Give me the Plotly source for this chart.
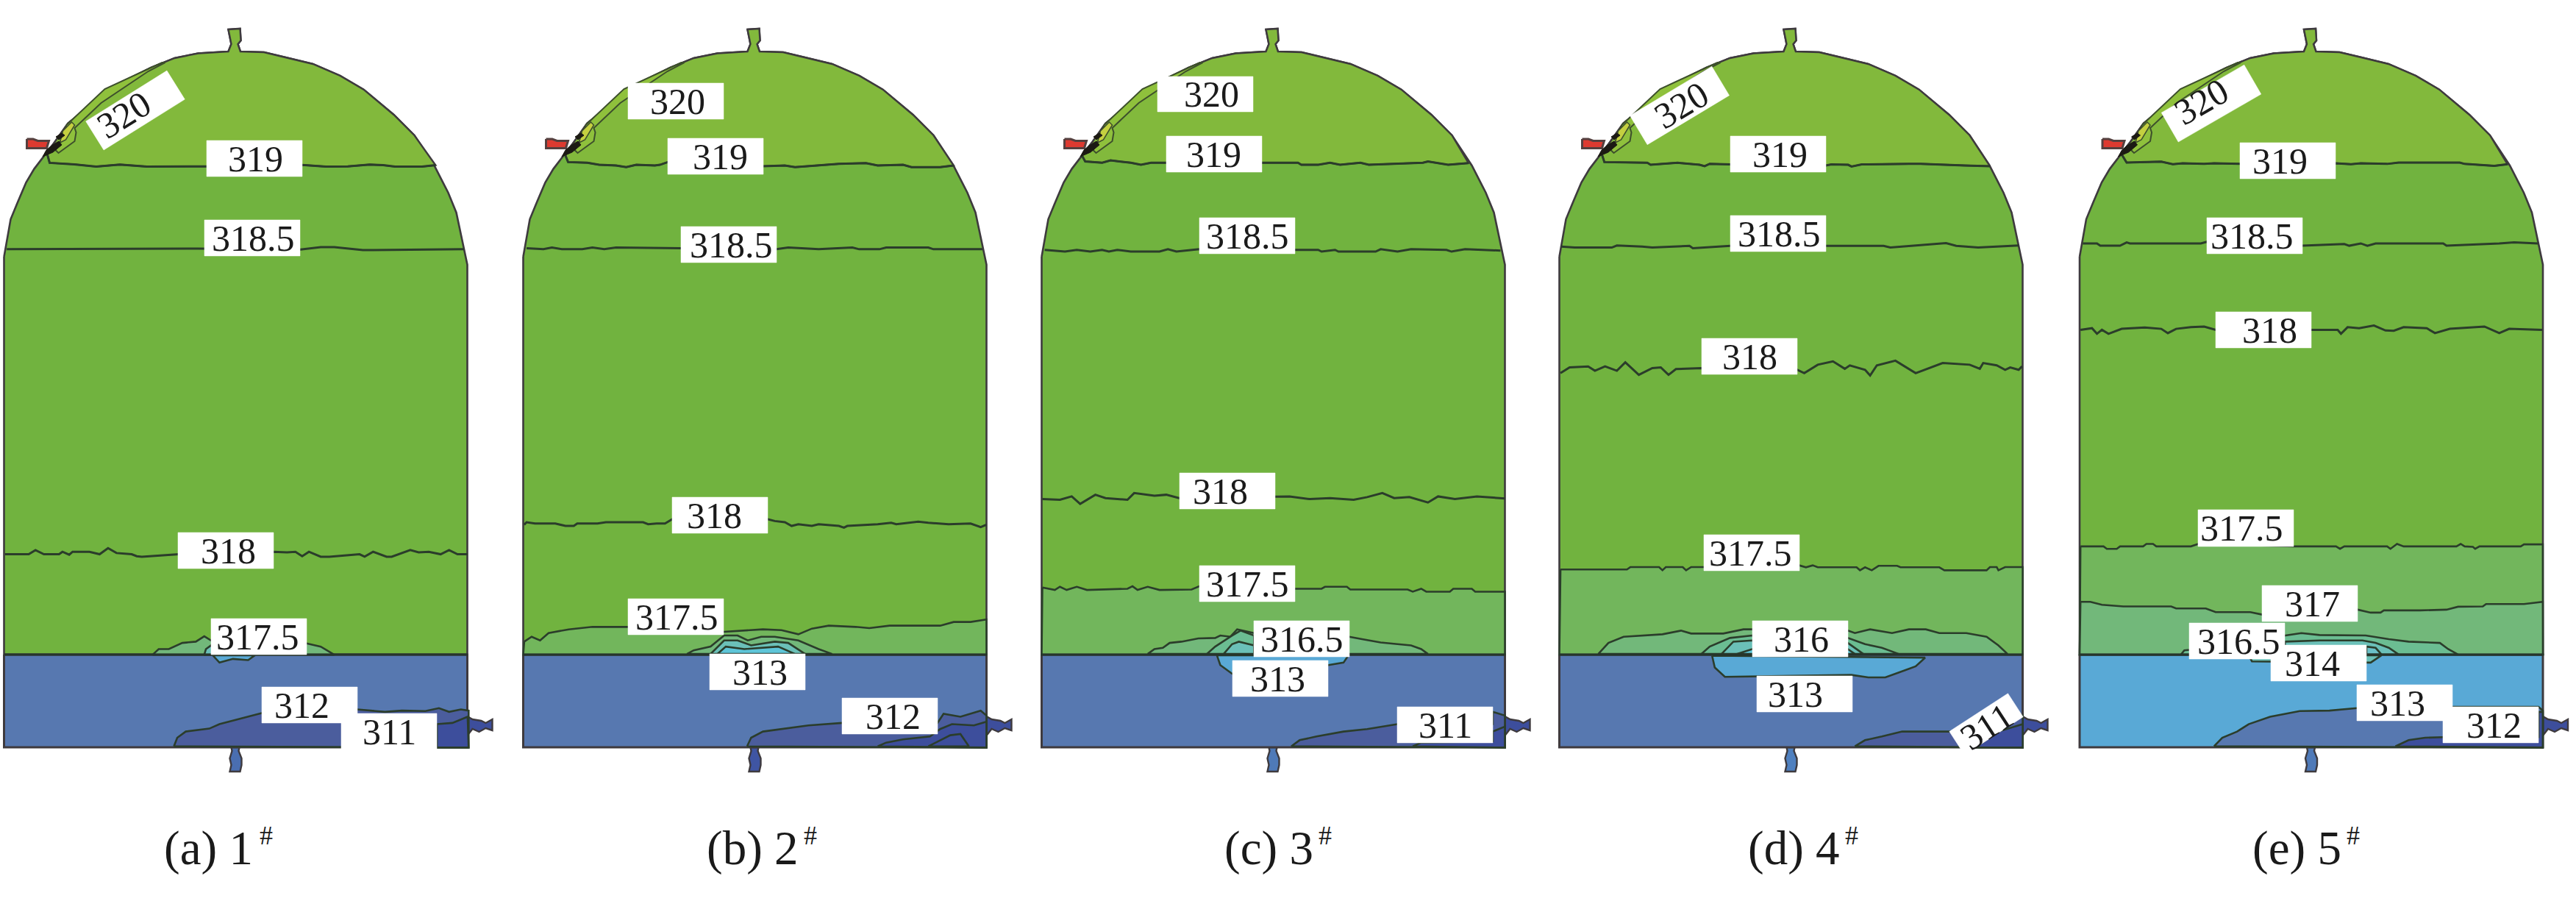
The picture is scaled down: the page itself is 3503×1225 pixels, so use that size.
import math
import plotly.graph_objects as go

# ---------- colours ----------
COL_CAP = "#82b93c"; COL_MAIN = "#71b33f"; COL_B1 = "#72b65c"; COL_B2 = "#72b87a"; COL_B3 = "#6bbd92"
COL_TEAL = "#6bc0b8"; COL_SKY = "#59a9d6"; COL_BLUE = "#5778b0"; COL_DARK = "#4b5d9d"; COL_DEEP = "#3d4e9c"
COL_LINE = "#2b3d2b"; COL_WALL = "#3e3a3e"; COL_RED = "#dd3a30"
SERIF = "Liberation Serif, Times New Roman, Times, serif"

# ---------- vessel, in pixels from the left wall of each panel ----------
PANEL_LEFT = [5.5, 711.5, 1416.5, 2120.5, 2828]
WIDTH = 630
Y_INTERFACE = 890
Y_BOTTOM = 1016
DOME = [(0, 349), (4.6, 321), (9, 298), (18.3, 275.5), (30, 248), (41, 229.6), (55, 211), (69, 193), (87, 167.6),
        (112.5, 147), (140, 121.7), (167.5, 108), (199.7, 92), (232, 79), (264, 72.5), (305, 70),
        (309, 60), (305, 40), (321, 39), (322, 55), (318, 60), (321.4, 70),
        (353.5, 71), (383, 78), (420, 87), (457, 103), (489, 121.7), (530, 156), (558, 184), (585, 225),
        (604, 262), (615, 289), (624, 330.6), (630, 360)]
NOZZLE = [(630, 974), (637, 978), (649, 980), (655, 983), (664, 978), (664, 993), (655, 990), (646, 995), (637, 991), (630, 1000)]
DRAIN = [(309, 1016), (310, 1021), (307, 1031), (309, 1040), (307, 1049), (321, 1049), (323, 1040), (323, 1031), (319, 1021), (320, 1016)]
INLET = [(31, 189), (39.5, 189), (46, 191.5), (61, 191.5), (58, 201.5), (31, 201.5)]
BLOB = [(52.5, 213), (57.5, 204), (64.5, 198), (74.5, 192), (78.5, 197), (66.5, 207)]
BLOB_UPPER = [(70.5, 186), (78.5, 181), (82.5, 184), (74.5, 190)]
STRIP = [(85, 170), (137, 121), (215, 85), (219, 85), (196, 97), (132, 140), (96, 174), (98, 180), (96, 192), (74, 208), (70, 204), (80, 186)]
SPARK = [(80, 178), (92, 166), (96, 170), (84, 190), (76, 194)]
DRAIN_COLOUR = ["#4a6eb0", "#3f55a3", "#4f7ab8", "#4f80bf", "#4f7ab8"]

# ---------- crops the traces were read from: left, top, x scale, y scale ----------
A_TOP = (0, 0, 2.178, 2.529); A_LOW = (0, 700, 2.178, 2.987)
B_TOP = (700, 0, 2.178, 2.178); B_LOW = (700, 700, 2.178, 2.987)
C_TOP = (1400, 0, 2.178, 2.178); C_LOW = (1400, 700, 2.178, 2.987)
D_TOP = (2100, 0, 2.178, 2.178); D_LOW = (2100, 700, 2.178, 2.987)
E_TOP = (2800, 0, 2.23, 2.23); E_LOW = (2800, 700, 2.23, 2.987)

# ---------- panel (a) 1# ----------
A_319 = [(140,530),(147,560),(220,565),(285,573),(355,566),(435,573),(570,572),(610,572),(895,567),(965,573),(1030,572),(1095,566),(1135,568),(1170,573),(1250,573),(1290,568)]
A_3185 = [(20,857),(585,855),(890,858),(950,850),(990,850),(1075,860),(1105,860),(1375,857)]
A_318 = [(15,160),(85,160),(105,143),(130,160),(175,160),(185,150),(205,162),(215,150),(235,150),(265,150),(295,160),(320,135),(345,155),(390,160),(405,168),(420,170),(530,160),(810,150),(850,152),(875,150),(895,168),(915,150),(950,170),(975,170),(1065,160),(1080,170),(1105,150),(1145,170),(1160,170),(1200,150),(1215,143),(1240,152),(1270,150),(1305,160),(1330,143),(1355,160),(1385,160)]
A_D1 = [(452,568),(470,545),(500,545),(540,520),(580,515),(605,493),(625,510),(908,522),(950,535),(990,568)]
A_D2 = [(605,568),(610,545),(625,530),(640,568)]
A_SKY = [(630,570),(650,600),(690,585),(735,590),(755,570)]
A_DARK = [(515,940),(525,905),(550,880),(620,868),(650,850),(720,825),(775,805),(1058,790),(1140,800),(1190,795),(1260,797),(1300,785),(1330,800),(1365,790),(1388,795),(1388,945)]
A_DEEP = [(1294,850),(1340,845),(1385,820),(1388,945),(1294,945)]

# ---------- panel (b) 2# ----------
B_319 = [(150,460),(158,480),(215,482),(250,488),(300,490),(330,495),(360,488),(415,490),(430,488),(453,480),(736,492),(800,490),(830,495),(890,490),(960,485),(1040,483),(1075,490),(1150,488),(1175,495),(1260,495),(1300,490)]
B_3185 = [(35,735),(85,738),(110,733),(140,738),(200,738),(230,733),(265,738),(300,733),(492,735),(775,738),(810,733),(900,738),(1000,733),(1020,738),(1080,738),(1100,733),(1225,733),(1240,738),(1300,738),(1385,738)]
B_318 = [(28,40),(35,30),(60,35),(120,35),(150,45),(175,45),(185,35),(245,35),(270,30),(310,30),(380,30),(395,38),(420,35),(445,35),(466,18),(750,18),(770,25),(800,30),(820,45),(840,38),(880,45),(900,38),(960,45),(975,52),(985,45),(1075,38),(1115,32),(1130,38),(1195,28),(1225,32),(1285,38),(1350,35),(1380,50),(1397,40)]
B_3175 = [(28,515),(50,495),(75,510),(100,480),(160,465),(230,455),(335,455),(620,475),(735,465),(790,468),(840,485),(880,462),(930,450),(1010,455),(1050,460),(1110,450),(1200,450),(1260,450),(1300,435),(1350,435),(1397,425)]
B_D1 = [(510,565),(530,550),(580,535),(620,490),(660,490),(690,510),(730,495),(770,495),(840,510),(900,545),(940,565)]
B_D2 = [(580,565),(620,510),(660,510),(700,530),(770,515),(810,520),(860,565)]
B_D3 = [(600,565),(625,535),(680,545),(780,535),(830,565)]
B_DARK = [(688,940),(700,905),(735,880),(790,870),(870,855),(970,845),(1252,845),(1270,808),(1320,820),(1380,795),(1397,815),(1397,945)]
B_DEEP = [(1075,940),(1100,925),(1150,912),(1230,900),(1260,870),(1295,850),(1360,855),(1397,840),(1397,945)]
B_DEEP2 = [(1225,940),(1290,895),(1320,890),(1345,940)]

# ---------- panel (c) 3# ----------
C_319 = [(155,460),(165,478),(215,482),(240,475),(300,482),(330,488),(360,482),(405,482),(688,482),(795,482),(805,488),(855,488),(890,482),(920,488),(980,482),(1005,488),(1165,482),(1180,478),(1240,488),(1300,483)]
C_3185 = [(45,740),(105,745),(140,740),(180,745),(215,740),(235,745),(260,740),(300,745),(385,745),(410,738),(435,745),(503,738),(786,740),(855,740),(865,745),(905,740),(915,745),(1025,745),(1040,738),(1090,745),(1130,738),(1235,740),(1250,745),(1290,738),(1395,742)]
C_318 = [(38,1478),(90,1480),(125,1470),(150,1492),(195,1465),(225,1475),(290,1480),(310,1460),(370,1468),(405,1465),(443,1475),(727,1472),(770,1470),(830,1478),(890,1475),(960,1480),(1000,1472),(1045,1460),(1080,1475),(1125,1472),(1180,1488),(1210,1470),(1260,1478),(1325,1470),(1408,1476)]
C_3175 = [(38,295),(75,305),(90,292),(110,305),(140,292),(170,305),(290,300),(305,290),(320,305),(350,292),(385,305),(480,303),(503,290),(786,300),(865,300),(875,292),(940,292),(950,303),(1120,303),(1135,312),(1160,300),(1175,312),(1245,312),(1255,300),(1310,300),(1320,312),(1408,312)]
C_D1 = [(350,565),(370,545),(395,540),(415,520),(450,515),(500,502),(550,500),(565,490),(595,495),(615,465),(665,480),(947,495),(985,505),(1040,518),(1090,525),(1130,530),(1160,545),(1180,565)]
C_D2 = [(525,565),(550,535),(600,490),(625,470),(665,490),(665,565)]
C_D3 = [(575,565),(600,525),(620,515),(665,530),(665,565)]
C_SKY = [(555,570),(565,610),(600,645),(885,610),(930,600),(945,570)]
C_DARK = [(775,940),(800,915),(850,900),(930,880),(1000,870),(1090,850),(1372,850),(1372,800),(1408,815),(1408,945)]
C_DEEP = [(1135,940),(1160,925),(1372,920),(1372,880),(1408,860),(1408,945)]

# ---------- panel (d) 4# ----------
D_319 = [(170,455),(178,480),(305,482),(315,488),(395,482),(460,488),(475,492),(490,485),(551,487),(834,490),(850,487),(900,488),(910,493),(940,487),(1080,485),(1115,485),(1245,490),(1320,492)]
D_3185 = [(50,730),(90,733),(200,733),(215,727),(290,730),(320,733),(430,728),(440,735),(551,728),(834,728),(1005,728),(1025,733),(1125,725),(1190,720),(1220,728),(1285,733),(1405,727)]
D_318 = [(48,1105),(75,1088),(130,1085),(150,1098),(180,1085),(215,1098),(240,1073),(280,1110),(320,1090),(345,1088),(368,1110),(390,1093),(466,1090),(749,1095),(770,1105),(810,1080),(855,1070),(890,1092),(905,1082),(950,1095),(965,1112),(985,1082),(1040,1068),(1075,1090),(1100,1105),(1180,1075),(1260,1080),(1290,1092),(1300,1075),(1340,1082),(1365,1095),(1380,1088),(1405,1095),(1415,1085)]
D_3175 = [(48,222),(245,222),(255,212),(340,212),(350,225),(360,212),(410,212),(420,225),(435,212),(473,212),(755,205),(775,213),(795,205),(810,213),(925,213),(935,225),(950,213),(970,225),(990,207),(1045,207),(1055,213),(1170,213),(1185,225),(1310,225),(1320,212),(1340,212),(1345,225),(1365,212),(1417,212)]
D_D1 = [(160,565),(190,520),(235,495),(350,485),(405,470),(435,482),(530,482),(590,465),(616,465),(899,470),(920,480),(965,465),(1030,480),(1080,465),(1130,465),(1170,480),(1250,480),(1310,495),(1345,530),(1372,565)]
D_D2 = [(465,565),(490,535),(550,500),(616,490),(899,500),(950,525),(1000,540),(1050,565)]
D_D3 = [(525,565),(560,515),(616,510),(899,520),(945,565)]
D_D4 = [(570,565),(616,545),(899,545),(920,565)]
D_SKY = [(497,572),(505,620),(535,658),(665,655),(835,652),(910,650),(960,660),(1010,660),(1070,630),(1100,615),(1128,580)]
D_DARK = [(920,940),(950,915),(1000,900),(1060,880),(1200,880),(1340,870),(1370,850),(1417,815),(1417,945)]
D_DEEP = [(1275,945),(1345,880),(1417,850),(1417,945)]

# ---------- panel (e) 5# ----------
E_319 = [(188,465),(205,493),(310,490),(345,498),(375,495),(440,497),(470,495),(549,497),(839,495),(885,498),(915,495),(995,497),(1030,493),(1215,493),(1230,497),(1320,503),(1360,498)]
E_3185 = [(72,738),(115,738),(125,745),(185,745),(205,735),(215,738),(430,738),(448,733),(738,745),(865,740),(880,745),(915,738),(935,745),(960,738),(1165,738),(1175,745),(1335,738),(1380,735),(1452,738)]
E_318 = [(65,1000),(100,995),(115,1012),(130,1000),(150,1012),(190,997),(260,993),(310,997),(330,1010),(355,997),(400,992),(440,990),(475,1000),(765,1000),(845,1000),(855,1012),(875,992),(910,995),(955,987),(990,1002),(1015,1003),(1045,992),(1115,995),(1140,1010),(1185,997),(1290,990),(1335,1010),(1365,997),(1465,1000)]
E_3175 = [(65,128),(135,128),(145,138),(175,138),(185,128),(255,128),(265,118),(285,118),(295,128),(400,128),(422,118),(712,128),(840,128),(852,138),(865,128),(995,128),(1005,138),(1025,118),(1045,128),(1205,128),(1218,118),(1230,128),(1255,130),(1262,138),(1275,128),(1400,128),(1410,120),(1467,120)]
E_317 = [(65,353),(95,353),(130,365),(195,372),(340,372),(355,380),(445,380),(475,395),(580,395),(616,405),(906,385),(945,397),(975,397),(985,388),(1095,388),(1175,385),(1210,373),(1285,372),(1295,362),(1400,360),(1410,362),(1467,353)]
E_D1 = [(370,567),(380,550),(395,548),(685,490),(735,480),(790,488),(930,490),(1000,505),(1060,515),(1155,520),(1180,545),(1210,567)]
E_D2 = [(685,515),(790,510),(920,510),(960,520),(1000,540),(1030,567),(685,567)]
E_D3 = [(932,535),(960,540),(978,567),(932,567)]
E_SKY = [(575,570),(585,595),(945,600),(978,570)]
E_MID = [(470,940),(495,905),(540,880),(575,850),(640,820),(730,797),(820,795),(903,785),(1193,780),(1454,780),(1467,795),(1467,945)]
E_DEEP = [(1020,940),(1060,915),(1110,905),(1164,903),(1454,903),(1454,800),(1467,800),(1467,945)]

# wall-to-wall bands laid on the green body, pale bands and blue pools
LOWER = [
    [(A_DARK, A_LOW, COL_DARK), (A_DEEP, A_LOW, COL_DEEP), (A_SKY, A_LOW, COL_SKY), (A_D1, A_LOW, COL_B2), (A_D2, A_LOW, COL_TEAL)],
    [(B_DARK, B_LOW, COL_DARK), (B_DEEP, B_LOW, COL_DEEP), (B_DEEP2, B_LOW, COL_DEEP), (B_D1, B_LOW, COL_B2), (B_D2, B_LOW, COL_TEAL), (B_D3, B_LOW, "#5ec5d8")],
    [(C_DARK, C_LOW, COL_DARK), (C_DEEP, C_LOW, COL_DEEP), (C_SKY, C_LOW, COL_SKY), (C_D1, C_LOW, COL_B2), (C_D2, C_LOW, COL_B3), (C_D3, C_LOW, COL_TEAL)],
    [(D_DARK, D_LOW, COL_DARK), (D_DEEP, D_LOW, COL_DEEP), (D_SKY, D_LOW, COL_SKY), (D_D1, D_LOW, COL_B2), (D_D2, D_LOW, COL_B3), (D_D3, D_LOW, COL_TEAL), (D_D4, D_LOW, "#5ec5d8")],
    [(E_MID, E_LOW, COL_BLUE), (E_DEEP, E_LOW, COL_DEEP), (E_SKY, E_LOW, COL_TEAL), (E_D1, E_LOW, COL_B3), (E_D2, E_LOW, COL_TEAL), (E_D3, E_LOW, "#6bc0c8")],
]
LINES_319 = [(A_319, A_TOP), (B_319, B_TOP), (C_319, C_TOP), (D_319, D_TOP), (E_319, E_TOP)]
LINES_PLAIN = [
    (A_3185, A_TOP), (A_318, A_LOW),
    (B_3185, B_TOP), (B_318, B_LOW),
    (C_3185, C_TOP), (C_318, C_TOP),
    (D_3185, D_TOP), (D_318, D_TOP),
    (E_3185, E_TOP), (E_318, E_TOP),
]
BANDS_3175 = [(None, None), (B_3175, B_LOW), (C_3175, C_LOW), (D_3175, D_LOW), (E_3175, E_LOW)]
BASE_COLOUR = [COL_BLUE, COL_BLUE, COL_BLUE, COL_BLUE, COL_SKY]

# labels: text, box left, box right, box top, box bottom, text centre x
BOXES = [
    ("319", 281, 411, 191, 240, 347.5), ("318.5", 278, 408, 299, 348, 344), ("318", 242, 372, 724, 773, 310),
    ("317.5", 287, 417, 841, 890, 350), ("312", 356, 486, 934, 983, 410), ("311", 464, 594, 970, 1019, 529),
    ("320", 854, 984, 113, 162, 921), ("319", 908, 1038, 188, 237, 979), ("318.5", 926, 1056, 308, 357, 994),
    ("318", 914, 1044, 676, 725, 971), ("317.5", 854, 984, 814, 863, 920), ("313", 965, 1095, 889, 938, 1033),
    ("312", 1145, 1275, 949, 998, 1214),
    ("320", 1574, 1704, 104, 152, 1647), ("319", 1586, 1716, 185, 234, 1650), ("318.5", 1631, 1761, 296, 345, 1696),
    ("318", 1604, 1734, 643, 692, 1659), ("317.5", 1631, 1761, 769, 818, 1696), ("316.5", 1705, 1835, 844, 893, 1770),
    ("313", 1676, 1806, 898, 947, 1737), ("311", 1900, 2030, 961, 1010, 1965),
    ("319", 2353, 2483, 185, 234, 2420), ("318.5", 2353, 2483, 293, 342, 2419), ("318", 2314, 2444, 460, 509, 2379),
    ("317.5", 2317, 2447, 727, 776, 2380), ("316", 2383, 2513, 844, 893, 2449), ("313", 2389, 2519, 919, 968, 2441),
    ("319", 3046, 3176, 194, 243, 3100), ("318.5", 3001, 3131, 296, 345, 3062), ("318", 3013, 3143, 424, 473, 3086),
    ("317.5", 2989, 3119, 693, 743, 3048), ("317", 3076, 3206, 796, 845, 3144), ("316.5", 2977, 3107, 847, 896, 3044),
    ("314", 3088, 3218, 877, 926, 3144), ("313", 3205, 3335, 931, 980, 3260), ("312", 3322, 3452, 961, 1010, 3391),
]
# rotated labels: text, box centre x, y, width, height, angle, text centre x, y
TILTED = [
    ("320", 184, 150, 130, 46, 32, 168.5, 156),
    ("320", 2284, 143.5, 130, 46, 31, 2286, 143),
    ("320", 3007, 140.6, 130, 46, 30, 2993.7, 138),
    ("311", 2701, 984.6, 95, 38, 33, 2701, 988),
]
CAPTIONS = ["(a) 1", "(b) 2", "(c) 3", "(d) 4", "(e) 5"]
CAPTION_X = [283.5, 1023, 1725.5, 2439, 3123]
CAPTION_MARK_X = [362, 1101.5, 1802, 2518, 3200]
CAPTION_Y = 1153
CAPTION_MARK_Y = 1136


def read(pts, crop):
    ox, oy, sx, sy = crop
    return [(ox + x / sx, oy + y / sy) for x, y in pts]


def shift(pts, left):
    return [(left + x, y) for x, y in pts]


fig = go.Figure()


def poly(pts, fill, line=COL_LINE, w=2.6):
    fig.add_trace(go.Scatter(x=[p[0] for p in pts] + [pts[0][0]], y=[p[1] for p in pts] + [pts[0][1]],
                             mode="lines", fill="toself", fillcolor=fill,
                             line=dict(color=line, width=w), hoverinfo="skip", showlegend=False))


def path(pts, line=COL_LINE, w=3):
    fig.add_trace(go.Scatter(x=[p[0] for p in pts], y=[p[1] for p in pts], mode="lines",
                             line=dict(color=line, width=w), hoverinfo="skip", showlegend=False))


for i, left in enumerate(PANEL_LEFT):
    dome = shift(DOME, left)
    wall_l, wall_r = left, left + WIDTH
    # fittings drawn behind the vessel
    poly(shift(NOZZLE, left), COL_DEEP, COL_WALL, 2.4)
    poly(shift(DRAIN, left), DRAIN_COLOUR[i], COL_WALL, 2.4)
    # body
    poly(dome + [(wall_r, Y_INTERFACE), (wall_l, Y_INTERFACE)], COL_MAIN, COL_WALL, 2.6)
    # cap above the 319 contour
    line, crop = LINES_319[i]
    l319 = read(line, crop)
    top = [p for p in dome if p[1] < l319[-1][1] - 2 and p[1] < l319[0][1] - 2]
    poly(l319 + top[::-1], COL_CAP, COL_WALL, 2.4)
    path(l319)
    # 320 strip and inlet
    poly(shift(STRIP, left), "#8fc13c", "#3d4f2c", 2)
    poly(shift(SPARK, left), "#c4d040", "#3d4f2c", 1.5)
    poly(shift(INLET, left), COL_RED, "#55403f", 3)
    poly(shift(BLOB, left), "#1c1a14", "#1c1a14", 1)
    poly(shift(BLOB_UPPER, left), "#1c1a14", "#1c1a14", 1)
    # lower liquid layer
    poly([(wall_l, Y_INTERFACE), (wall_r, Y_INTERFACE), (wall_r, Y_BOTTOM), (wall_l, Y_BOTTOM)], BASE_COLOUR[i], COL_WALL, 3)
    # pale bands
    line, crop = BANDS_3175[i]
    if line:
        band = read(line, crop)
        poly(band + [(wall_r, Y_INTERFACE), (wall_l, Y_INTERFACE)], COL_B1)
    if i == 4:
        band = read(E_317, E_LOW)
        poly(band + [(wall_r, Y_INTERFACE), (wall_l, Y_INTERFACE)], COL_B2)
    for pts, crop, colour in LOWER[i]:
        poly(read(pts, crop), colour)
    # interface redrawn over the pools
    path([(wall_l, Y_INTERFACE), (wall_r, Y_INTERFACE)], "#26352c", 3)

for line, crop in LINES_PLAIN:
    path(read(line, crop))

# label boxes and text
annotations = []
for text, x0, x1, y0, y1, tx in BOXES:
    poly([(x0, y0), (x1, y0), (x1, y1), (x0, y1)], "white", "white", 0.5)
    annotations.append(dict(x=tx, y=(y0 + y1) / 2, text=text, textangle=0))
for text, cx, cy, w, h, ang, tx, ty in TILTED:
    a = math.radians(ang)
    ux, uy = math.cos(a), -math.sin(a)
    vx, vy = math.sin(a), math.cos(a)
    corners = [(cx + sx * w / 2 * ux + sy * h / 2 * vx, cy + sx * w / 2 * uy + sy * h / 2 * vy)
               for sx, sy in [(-1, -1), (1, -1), (1, 1), (-1, 1)]]
    poly(corners, "white", "white", 0.5)
    annotations.append(dict(x=tx, y=ty, text=text, textangle=-ang))

anns = [dict(xref="x", yref="y", showarrow=False, xanchor="center", yanchor="middle",
             font=dict(family=SERIF, size=50, color="#1a1a1a"), **a) for a in annotations]
for cap, x, mx in zip(CAPTIONS, CAPTION_X, CAPTION_MARK_X):
    anns.append(dict(x=x, y=CAPTION_Y, xref="x", yref="y", text=cap, showarrow=False, xanchor="center", yanchor="middle",
                     font=dict(family=SERIF, size=65, color="#1a1a1a")))
    anns.append(dict(x=mx, y=CAPTION_MARK_Y, xref="x", yref="y", text="#", showarrow=False, xanchor="center", yanchor="middle",
                     font=dict(family=SERIF, size=36, color="#1a1a1a")))

fig.update_layout(
    width=3503, height=1225, margin=dict(l=0, r=0, t=0, b=0),
    paper_bgcolor="white", plot_bgcolor="white", showlegend=False, annotations=anns,
    xaxis=dict(range=[0, 3503], visible=False, fixedrange=True),
    yaxis=dict(range=[1225, 0], visible=False, fixedrange=True),
)
fig.write_html("out.html", config=dict(displayModeBar=False),
               post_script="document.body.style.margin='0';document.body.style.overflow='hidden';")
